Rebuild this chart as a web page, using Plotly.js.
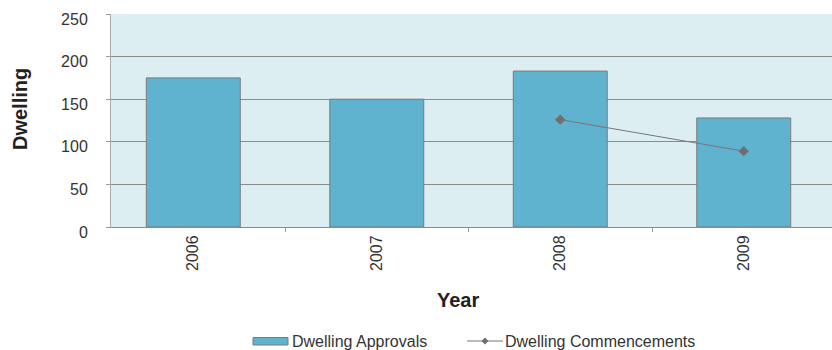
<!DOCTYPE html>
<html><head><meta charset="utf-8">
<script src="https://cdn.plot.ly/plotly-3.0.1.min.js"></script>
<style>html,body{margin:0;padding:0;background:#fff;}#chart{width:832px;height:350px;}</style>
</head><body><div id="chart"></div>
<script>
const years = [2006, 2007, 2008, 2009];
const yearLabels = ['2006', '2007', '2008', '2009'];
const approvals = [175, 150, 183, 128];
const commenceYears = [2008, 2009];
const commencements = [126, 89];
const bandEdges = [2006.5, 2007.5, 2008.5];
const yTicks = [0, 50, 100, 150, 200, 250];
const seriesNames = ['Dwelling Approvals', 'Dwelling Commencements'];

const W = 832, H = 350, ML = 111, MR = 0, MT = 14, MB = 123;
const PW = W - ML - MR, PH = H - MT - MB;
const px = v => (v - ML) / PW;          // pixel x -> paper
const py = v => (MT + PH - v) / PH;     // pixel y -> paper

const barColor = '#5fb3cf', edgeColor = '#7a7a7a', lineColor = '#767676';
const font = 'Liberation Sans, Arial, Helvetica, sans-serif';
const data = [
  {type:'bar', name:seriesNames[0], x:years, y:approvals, width:0.512,
   marker:{color:barColor, line:{color:edgeColor, width:1}}},
  {type:'scatter', mode:'lines+markers', name:seriesNames[1], x:commenceYears, y:commencements,
   line:{color:lineColor, width:1}, marker:{symbol:'diamond', size:8, color:'#6f6f6f'}}
];
const ly = 341;
const layout = {
  width:W, height:H,
  margin:{l:ML, r:MR, t:MT, b:MB},
  paper_bgcolor:'#ffffff', plot_bgcolor:'#ddeef3',
  font:{family:font, color:'#333333', size:16},
  showlegend:false,
  xaxis:{range:[2005.5515, 2009.481], tickmode:'array', tickvals:years, ticktext:yearLabels, automargin:false,
         tickangle:-90, ticks:'', showgrid:false, zeroline:false, showline:true, linecolor:'#8a8a8a', linewidth:1,
         tickfont:{size:16, color:'#333'}, ticklabelstandoff:1,
         minor:{tickmode:'array', tickvals:bandEdges, ticks:'outside', ticklen:4, tickcolor:'#999', showgrid:false},
         fixedrange:true},
  yaxis:{range:[0,250], tickmode:'array', tickvals:yTicks, showgrid:true, gridcolor:'#8c8c8c', gridwidth:1, automargin:false,
         zeroline:false, showline:true, linecolor:'#aaaaaa', linewidth:1, ticks:'outside', ticklen:4, tickcolor:'#999',
         tickfont:{size:16, color:'#333'}, ticklabelstandoff:15, ticklabelshift:5, fixedrange:true},
  shapes:[
    {type:'rect', xref:'paper', yref:'paper', x0:px(253), x1:px(288), y0:py(345), y1:py(337.5),
     fillcolor:barColor, line:{color:edgeColor, width:1}},
    {type:'line', xref:'paper', yref:'paper', x0:px(467), x1:px(503), y0:py(ly), y1:py(ly),
     line:{color:lineColor, width:1}},
    {type:'path', xref:'paper', yref:'paper',
     path:`M ${px(485)} ${py(ly-3.5)} L ${px(488.5)} ${py(ly)} L ${px(485)} ${py(ly+3.5)} L ${px(481.5)} ${py(ly)} Z`,
     fillcolor:'#6f6f6f', line:{width:0}}
  ],
  annotations:[
    {text:'<b>Year</b>', xref:'paper', yref:'paper', x:px(458), y:py(300), xanchor:'center', yanchor:'middle',
     showarrow:false, font:{size:20, color:'#222'}},
    {text:'<b>Dwelling</b>', xref:'paper', yref:'paper', x:px(20), y:py(109), xanchor:'center', yanchor:'middle',
     textangle:-90, showarrow:false, font:{size:20, color:'#222'}},
    {text:seriesNames[0], xref:'paper', yref:'paper', x:px(290), y:py(ly), xanchor:'left', yanchor:'middle',
     showarrow:false, font:{size:16, color:'#333'}},
    {text:seriesNames[1], xref:'paper', yref:'paper', x:px(503), y:py(ly), xanchor:'left', yanchor:'middle',
     showarrow:false, font:{size:16, color:'#333'}}
  ]
};
Plotly.newPlot('chart', data, layout, {displayModeBar:false, staticPlot:true});
</script></body></html>
